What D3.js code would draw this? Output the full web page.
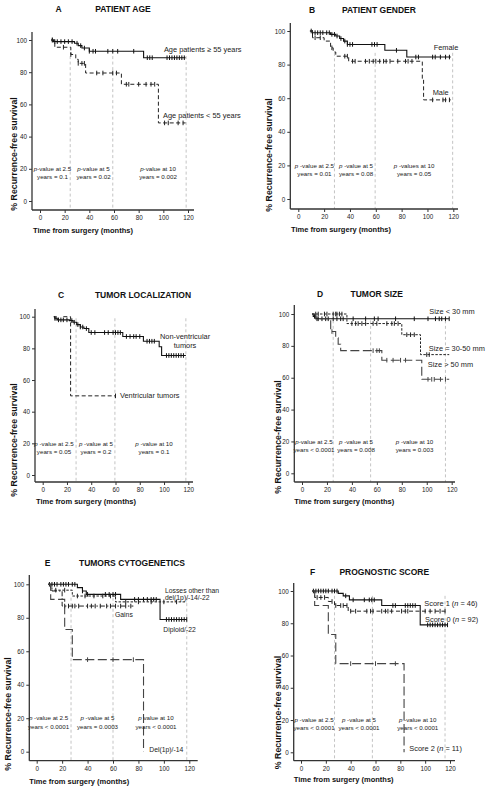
<!DOCTYPE html>
<html><head><meta charset="utf-8">
<script src="https://cdn.jsdelivr.net/npm/d3@7"></script>
<style>body{margin:0;background:#fff}svg{display:block}text{font-family:"Liberation Sans",Arial,sans-serif}</style>
</head><body><svg id="c" width="492" height="791"></svg>
<script>
// ---------- tick labels ----------
const xTicks=[0,20,40,60,80,100,120];
const yTicks=[0,20,40,60,80,100];

// ---------- A: patient age ----------
const ageOldSteps=[[9,100],[11,99],[28,98],[31,96.5],[34,95],[40,93],[84,89]];
const ageOldCensor=[10,12,14,17,20,23,26,30,33,36,40,43,45,55,59,63,76,87,89,91,103,105,107,109,111,113,115,117];
const ageYoungSteps=[[9,100],[12,95.5],[25,91],[29,88],[31,85.5],[37,79.5],[66,72.5],[96,48.5]];
const ageYoungCensor=[10,19,25,31,34,36,46,51,59,62,70,72,80,86,90,93,101,104,112,116];
const pA=[["p","-value at 2.5","years = 0.1"],["p","-value at 5","years = 0.02"],["p","-value at 10","years = 0.002"]];

// ---------- B: patient gender ----------
const femaleSteps=[[9,100],[11,99],[25,98],[29,97],[32,95.5],[35,94],[38,92],[67,88.5],[84,84.5]];
const femaleCensor=[10,11,13,15,17,19,22,24,26,28,30,33,36,38,40,42,57,59,61,76,91,93,104,106,110,114,117];
const maleSteps=[[9,100],[11,96],[20,94],[25,90],[27,87.5],[29,85],[39,82],[96,71],[97,59]];
const maleCensor=[13,17,26,36,38,42,44,52,55,58,60,63,66,68,71,77,83,85,88,104,112,114,117];
const pB=[["p"," -value at 2.5","years = 0.01"],["p"," -value at 5","years = 0.08"],["p"," -values at 10","years = 0.05"]];

// ---------- C: tumor localization ----------
const nonVentSteps=[[9,100],[10,99],[12,98],[22,97.5],[25,96.5],[28,95],[31,93.5],[34,92.5],[38,90],[66,87.5],[83,84.5],[96,81],[98,75.5]];
const nonVentCensor=[10,11,13,15,17,20,24,26,29,31,33,36,40,43,51,54,58,60,62,64,69,72,75,77,80,86,88,90,92,102,104,106,108,110,112,114,116];
const ventSteps=[[17,100],[23,50]];
const ventCensor=[60];
const pC=[["p"," -value at 2.5","years = 0.05"],["p"," -value at 5","years = 0.2"],["p"," -value at 10","years = 0.1"]];

// ---------- D: tumor size ----------
const smallSteps=[[8,100],[9,98.5],[11,97]];
const smallCensor=[10,12,13,16,19,21,25,28,31,33,41,51,58,61,75,90,101,107,110,112,115,118];
const mediumSteps=[[8,100],[36,94],[80,87],[95,74.5]];
const mediumCensor=[11,13,18,20,25,27,28,30,32,40,43,45,48,51,57,60,68,72,74,77,84,87,90,100,102];
const largeSteps=[[8,100],[11,97],[23,89],[27,85],[29,81],[31,77],[64,71],[96,59]];
const largeCensor=[24,57,60,62,68,73,79,83,101,104,106,111,115];
const pD=[["p","-value at 2.5","years < 0.0001"],["p"," -value at 5","years = 0.008"],["p"," -value at 10","years = 0.003"]];

// ---------- E: tumors cytogenetics ----------
const diploidSteps=[[9,100],[32,98],[36,96],[39,94],[66,91],[97,79]];
const diploidCensor=[10,12,14,16,19,21,23,25,28,30,36,40,54,57,60,62,77,80,84,87,90,92,94,102,104,106,108,110,112,114,116,118];
const lossesSteps=[[9,100],[11,96.5],[28,93],[62,89.5]];
const lossesCensor=[15,22,32,38,45,52,58,70,80,90,100,110];
const gainsSteps=[[9,100],[12,96],[20,87]];
const gainsCensor=[22,25,28,30,33,40,43,46,50,55,58,62,66,70,74];
const delSteps=[[9,100],[11,91],[22,73],[28,55],[84,0]];
const delCensor=[40,60,76];
const pE=[["p"," -value at 2.5","years < 0.0001"],["p"," -value at 5","years = 0.0003"],["p"," value at 10","years < 0.0001"]];

// ---------- F: prognostic score ----------
const score1Steps=[[9,100],[30,98.5],[34,97],[39,94.5],[65,91],[96,79]];
const score1Censor=[10,12,14,16,18,20,22,25,27,29,36,42,51,55,57,59,74,76,84,86,88,90,92,102,104,106,108,110,112,114,116,118];
const score0Steps=[[9,100],[11,96],[22,93.5],[27,91],[38,87.5]];
const score0Censor=[13,16,19,25,28,32,34,37,40,44,53,56,58,65,68,70,73,81,84,86,100,104,108,112,116];
const score2Steps=[[9,100],[11,91],[22,73],[28,55],[83,0]];
const score2Censor=[40,60,76];
const pF=[["p"," -value at 2.5","years < 0.0001"],["p"," -value at 5","years < 0.0001"],["p"," -value at 10","years < 0.0001"]];

// ---------- styles ----------
const ST={
  solid:{dash:null,color:"#111",w:1.1},
  dash:{dash:"4,2.5",color:"#222",w:1},
  short:{dash:"2.5,1.5",color:"#222",w:1},
  dashdot:{dash:"5,2,1.5,2",color:"#222",w:1},
  long:{dash:"9,3.5",color:"#444",w:1.1}
};

// ---------- panels (built from arrays above) ----------
const panels=[
 {letter:"A",title:"PATIENT AGE",
  L:{x0:40,x120:188,y0:201,y100:40,left:32,right:194,top:32,bottom:210,lx:58.5,ly:12,tx:123,yt:[14,154],xt:[33,233]},
  grid:[24.5,59,118.5],gridTop:90,
  curves:[{s:ageOldSteps,c:ageOldCensor,end:118,st:"solid"},{s:ageYoungSteps,c:ageYoungCensor,end:118,st:"dash"}],
  labels:[{t:"Age patients  \u2265  55 years",m:100.5,v:94.2},{t:"Age patients < 55 years",m:99.7,v:53.4}],
  p:pA,pm:[10.1,43.4,95.7]},
 {letter:"B",title:"PATIENT GENDER",
  L:{x0:298.3,x120:453.3,y0:199,y100:31,left:290.3,right:458,top:23,bottom:209,lx:312,ly:13,tx:379,yt:[269.3,155],xt:[291,232]},
  grid:[28,59.5,119.5],gridTop:87,
  curves:[{s:femaleSteps,c:femaleCensor,end:118,st:"solid"},{s:maleSteps,c:maleCensor,end:118,st:"dash"}],
  labels:[{t:"Female",m:104.8,v:90},{t:"Male",m:104,v:63.3}],
  p:pB,pm:[12.5,44.7,89.6]},
 {letter:"C",title:"TUMOR LOCALIZATION",
  L:{x0:42.7,x120:188.3,y0:475,y100:316.7,left:35,right:193,top:309,bottom:482,lx:61,ly:298,tx:143,yt:[14,440],xt:[36,504]},
  grid:[27.5,59.5,118],gridTop:99,
  curves:[{s:nonVentSteps,c:nonVentCensor,end:118,st:"solid"},{s:ventSteps,c:ventCensor,end:60,st:"dash"}],
  labels:[{t:"Non-ventricular",m:96.7,v:87.4},{t:"tumors",m:117.3,v:81.7,a:"middle"},{t:"Ventricular tumors",m:63.7,v:50.5}],
  p:pC,pm:[9.3,43.9,91.7]},
 {letter:"D",title:"TUMOR SIZE",
  L:{x0:302,x120:451.7,y0:473.3,y100:314,left:294.3,right:455,top:305,bottom:482,lx:320,ly:296.5,tx:376.7,yt:[277.7,437],xt:[294.3,504]},
  grid:[25,55,115],gridTop:96,
  curves:[{s:smallSteps,c:smallCensor,end:118,st:"solid"},{s:mediumSteps,c:mediumCensor,end:118,st:"short"},{s:largeSteps,c:largeCensor,end:118,st:"long"}],
  labels:[{t:"Size < 30 mm",m:102,v:101.4},{t:"Size =  30-50 mm",m:101.6,v:78.5},{t:"Size > 50 mm",m:100.8,v:68.6}],
  p:pD,pm:[9.6,43.3,90.2]},
 {letter:"E",title:"TUMORS CYTOGENETICS",
  L:{x0:36.7,x120:189.3,y0:751.7,y100:584.3,left:29.3,right:197.7,top:575,bottom:760.7,lx:47.7,ly:565.5,tx:132,yt:[8.3,714],xt:[29.3,784]},
  grid:[27,60,118],gridTop:92,
  curves:[{s:diploidSteps,c:diploidCensor,end:118,st:"solid"},{s:lossesSteps,c:lossesCensor,end:118,st:"short"},{s:gainsSteps,c:gainsCensor,end:76,st:"dashdot"},{s:delSteps,c:delCensor,end:84,st:"long"}],
  labels:[{t:"Losses other than",m:100.9,v:96,f:6.8},{t:"del(1p)/-14/-22",m:100.9,v:92,f:6.8},{t:"Gains",m:61.6,v:82,f:6.8},{t:"Diploid/-22",m:99.6,v:73.1,f:6.8},{t:"Del(1p)/-14",m:88.5,v:1,f:6.8}],
  p:pE,pm:[9.3,47.8,93.8]},
 {letter:"F",title:"PROGNOSTIC SCORE",
  L:{x0:301,x120:450,y0:752.3,y100:591,left:293.7,right:455,top:583,bottom:760.7,lx:312.7,ly:574.5,tx:384.3,yt:[277.7,712.5],xt:[293.7,782]},
  grid:[27,57.5,116],gridTop:97,
  curves:[{s:score1Steps,c:score1Censor,end:118,st:"solid"},{s:score0Steps,c:score0Censor,end:118,st:"dash"},{s:score2Steps,c:score2Censor,end:83,st:"long"}],
  labels:[{t:"Score 1 (",it:"n",t2:" = 46)",m:99.3,v:92.4},{t:"Score 0 (",it:"n",t2:" = 92)",m:99.9,v:82.5},{t:"Score 2 (",it:"n",t2:" = 11)",m:87.2,v:2.2}],
  p:pF,pm:[10.5,46.7,94]}
];

const svg=d3.select("#c");
function survAt(steps,t){let v=steps[0][1];for(const s of steps){if(s[0]<=t)v=s[1];}return v;}

panels.forEach(P=>{
  const L=P.L;
  const x=d3.scaleLinear().domain([0,120]).range([L.x0,L.x120]);
  const y=d3.scaleLinear().domain([0,100]).range([L.y0,L.y100]);
  const g=svg.append("g");

  // grid lines
  g.selectAll(".grid").data(P.grid).join("line")
   .attr("x1",d=>x(d)).attr("x2",d=>x(d)).attr("y1",y(P.gridTop)).attr("y2",L.bottom)
   .attr("stroke","#b5b5b5").attr("stroke-width",0.8).attr("stroke-dasharray","3,2.5");

  // axes
  const ax=g.append("g").attr("transform",`translate(0,${L.bottom})`)
   .call(d3.axisBottom(x).tickValues(xTicks).tickSize(3).tickPadding(2.5).tickSizeOuter(0));
  const ay=g.append("g").attr("transform",`translate(${L.left},0)`)
   .call(d3.axisLeft(y).tickValues(yTicks).tickSize(3).tickPadding(2).tickSizeOuter(0));
  [ax,ay].forEach(a=>{a.select(".domain").remove();
    a.selectAll("line").attr("stroke","#333").attr("stroke-width",1);
    a.selectAll("text").attr("font-size",6.3).attr("fill","#222").style("font-family","'Liberation Sans',Arial,sans-serif");});
  g.append("line").attr("x1",L.left).attr("x2",L.right).attr("y1",L.bottom).attr("y2",L.bottom).attr("stroke","#333").attr("stroke-width",1.3);
  g.append("line").attr("x1",L.left).attr("x2",L.left).attr("y1",L.top).attr("y2",L.bottom).attr("stroke","#333").attr("stroke-width",1.3);

  // curves
  const line=d3.line().x(d=>x(d[0])).y(d=>y(d[1])).curve(d3.curveStepAfter);
  P.curves.forEach(cv=>{
    const st=ST[cv.st];
    const pts=cv.s.slice();
    const last=pts[pts.length-1];
    if(cv.end>last[0])pts.push([cv.end,last[1]]);
    g.append("path").attr("d",line(pts)).attr("fill","none").attr("stroke",st.color)
     .attr("stroke-width",st.w).attr("stroke-dasharray",st.dash);
    g.selectAll(null).data(cv.c).join("line")
     .attr("x1",d=>x(d)).attr("x2",d=>x(d))
     .attr("y1",d=>y(survAt(cv.s,d))-2.3).attr("y2",d=>y(survAt(cv.s,d))+2.3)
     .attr("stroke",st.color).attr("stroke-width",1);
  });

  // curve labels
  P.labels.forEach(lb=>{
    const t=g.append("text").attr("x",x(lb.m)).attr("y",y(lb.v)).attr("dy","0.35em")
      .attr("font-size",lb.f||7.4).attr("fill","#222").attr("text-anchor",lb.a||"start");
    t.append("tspan").text(lb.t);
    if(lb.it){t.append("tspan").attr("font-style","italic").text(lb.it);t.append("tspan").text(lb.t2);}
  });

  // p-value notes
  P.p.forEach((pv,i)=>{
    const cx=x(P.pm[i]);
    const t1=g.append("text").attr("x",cx).attr("y",y(20)+2.2).attr("text-anchor","middle").attr("font-size",6.2).attr("fill","#222");
    t1.append("tspan").attr("font-style","italic").text(pv[0]);
    t1.append("tspan").text(pv[1]);
    g.append("text").attr("x",cx).attr("y",y(20)+10.3).attr("text-anchor","middle").attr("font-size",6.2).attr("fill","#222").text(pv[2]);
  });

  // titles
  g.append("text").attr("x",L.lx).attr("y",L.ly).attr("text-anchor","middle").attr("font-size",8.5).attr("font-weight","bold").attr("fill","#111").text(P.letter);
  g.append("text").attr("x",L.tx).attr("y",L.ly).attr("text-anchor","middle").attr("font-size",8.5).attr("font-weight","bold").attr("fill","#111").text(P.title);
  g.append("text").attr("x",L.xt[0]).attr("y",L.xt[1]).attr("font-size",7.5).attr("font-weight","bold").attr("fill","#111").text("Time from surgery (months)");
  g.append("text").attr("transform",`translate(${L.yt[0]},${L.yt[1]}) rotate(-90)`).attr("dy","0.35em")
   .attr("text-anchor","middle").attr("font-size",8.8).attr("font-weight","bold").attr("fill","#111").text("% Recurrence-free survival");
});
</script></body></html>
